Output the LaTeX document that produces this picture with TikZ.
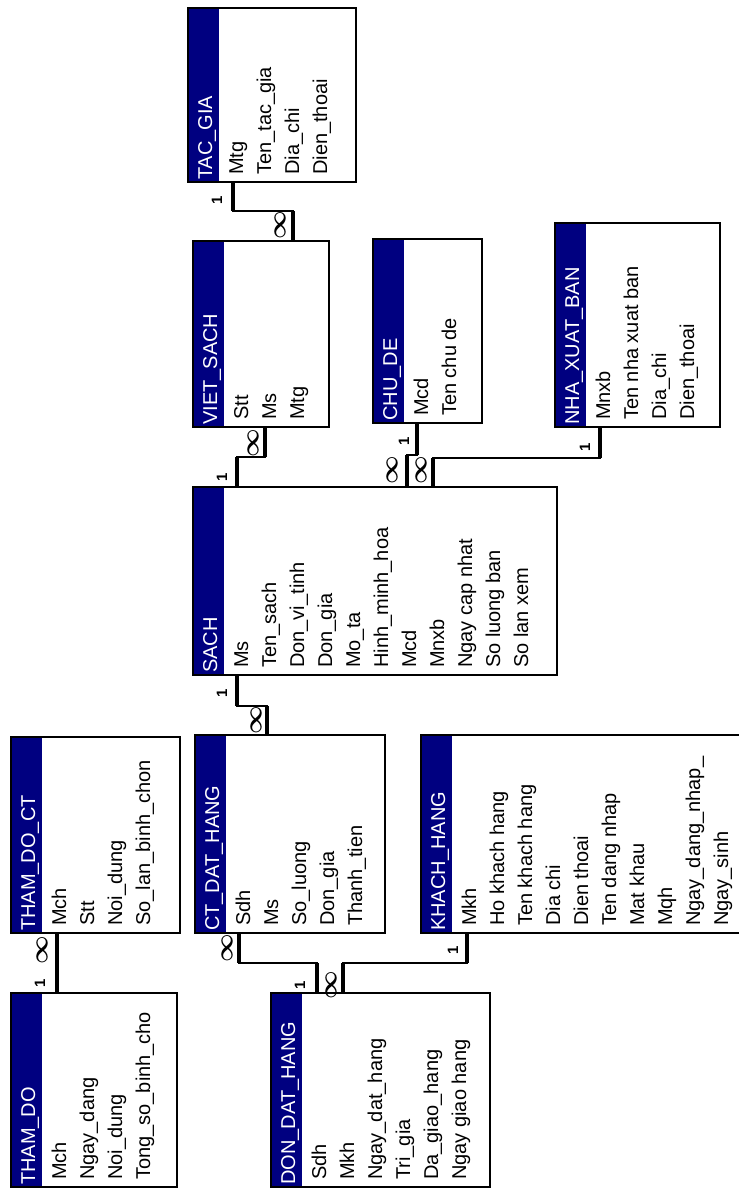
\documentclass[tikz,border=0pt]{standalone}
\usepackage{fontspec}
\setmainfont{Liberation Sans}
\usepackage{tikz}
\usetikzlibrary{calc, positioning}
\definecolor{hdrblue}{RGB}{0,0,128}

\tikzset{
  tbl/.style={draw=black, line width=1.3pt, fill=white, inner sep=0pt, outer sep=0pt,
    anchor=north west,
    path picture={\fill[hdrblue] (path picture bounding box.north west)
      rectangle ([xshift=31pt]path picture bounding box.south west);}},
  ttl/.style={rotate=90, anchor=base west, inner sep=0pt, text=white},
  fld/.style={rotate=90, anchor=base west, inner sep=0pt},
  rel/.style={line width=1.3pt},
  relend/.style={line width=3.8pt},
  one/.style={rotate=90, inner sep=0pt, font=\fontsize{15}{15}\selectfont\bfseries},
  many/.style={rotate=90, inner sep=0pt, font=\fontsize{23}{23}\selectfont\boldmath},
}

\begin{document}
\begin{tikzpicture}[x=1pt, y=-1pt, font=\fontsize{20}{24}\selectfont]
\useasboundingbox (0,0) rectangle (739,1189);

% TAC_GIA
\node[tbl, minimum width=168pt, minimum height=174pt] (tacgia) at (188,8) {};
\node[ttl] (tacgia-t) at ($(tacgia.south west)+(24,-2)$) {TAC\_GIA};
\foreach \f [count=\i from 0] in {Mtg, Ten\_tac\_gia, Dia\_chi, Dien\_thoai}
  \node[fld] (tacgia-\i) at ($(tacgia.south west)+(55+28*\i,-7)$) {\f};

% VIET_SACH
\node[tbl, minimum width=136pt, minimum height=186pt] (viet) at (193,241) {};
\node[ttl] (viet-t) at ($(viet.south west)+(24,-2)$) {VIET\_SACH};
\foreach \f [count=\i from 0] in {Stt, Ms, Mtg}
  \node[fld] (viet-\i) at ($(viet.south west)+(55+28*\i,-7)$) {\f};

% CHU_DE
\node[tbl, minimum width=109pt, minimum height=184pt] (chude) at (373,239) {};
\node[ttl] (chude-t) at ($(chude.south west)+(24,-2)$) {CHU\_DE};
\foreach \f [count=\i from 0] in {Mcd, Ten chu de}
  \node[fld] (chude-\i) at ($(chude.south west)+(55+28*\i,-7)$) {\f};

% NHA_XUAT_BAN
\node[tbl, minimum width=165pt, minimum height=204pt] (nxb) at (555,223) {};
\node[ttl] (nxb-t) at ($(nxb.south west)+(24,-2)$) {NHA\_XUAT\_BAN};
\foreach \f [count=\i from 0] in {Mnxb, Ten nha xuat ban, Dia\_chi, Dien\_thoai}
  \node[fld] (nxb-\i) at ($(nxb.south west)+(55+28*\i,-7)$) {\f};

% SACH
\node[tbl, minimum width=364pt, minimum height=188pt] (sach) at (193,487) {};
\node[ttl] (sach-t) at ($(sach.south west)+(24,-2)$) {SACH};
\foreach \f [count=\i from 0] in {Ms, Ten\_sach, Don\_vi\_tinh, Don\_gia, Mo\_ta,
    Hinh\_minh\_hoa, Mcd, Mnxb, Ngay cap nhat, So luong ban, So lan xem}
  \node[fld] (sach-\i) at ($(sach.south west)+(55+28*\i,-7)$) {\f};

% THAM_DO_CT
\node[tbl, minimum width=169pt, minimum height=196pt] (thamdoct) at (11,737) {};
\node[ttl] (thamdoct-t) at ($(thamdoct.south west)+(24,-2)$) {THAM\_DO\_CT};
\foreach \f [count=\i from 0] in {Mch, Stt, Noi\_dung, So\_lan\_binh\_chon}
  \node[fld] (thamdoct-\i) at ($(thamdoct.south west)+(55+28*\i,-7)$) {\f};

% CT_DAT_HANG
\node[tbl, minimum width=190pt, minimum height=198pt] (ctdh) at (195,735) {};
\node[ttl] (ctdh-t) at ($(ctdh.south west)+(24,-2)$) {CT\_DAT\_HANG};
\foreach \f [count=\i from 0] in {Sdh, Ms, So\_luong, Don\_gia, Thanh\_tien}
  \node[fld] (ctdh-\i) at ($(ctdh.south west)+(55+28*\i,-7)$) {\f};

% KHACH_HANG
\node[tbl, minimum width=330pt, minimum height=198pt] (khach) at (421,735) {};
\node[ttl] (khach-t) at ($(khach.south west)+(24,-2)$) {KHACH\_HANG};
\foreach \f [count=\i from 0] in {Mkh, Ho khach hang, Ten khach hang, Dia chi,
    Dien thoai, Ten dang nhap, Mat khau, Mqh, Ngay\_dang\_nhap\_, Ngay\_sinh}
  \node[fld] (khach-\i) at ($(khach.south west)+(55+28*\i,-7)$) {\f};

% THAM_DO
\node[tbl, minimum width=166pt, minimum height=194pt] (thamdo) at (11,993) {};
\node[ttl] (thamdo-t) at ($(thamdo.south west)+(24,-2)$) {THAM\_DO};
\foreach \f [count=\i from 0] in {Mch, Ngay\_dang, Noi\_dung, Tong\_so\_binh\_cho}
  \node[fld] (thamdo-\i) at ($(thamdo.south west)+(55+28*\i,-7)$) {\f};

% DON_DAT_HANG
\node[tbl, minimum width=219pt, minimum height=194pt] (ddh) at (271,993) {};
\node[ttl] (ddh-t) at ($(ddh.south west)+(24,-2)$) {DON\_DAT\_HANG};
\foreach \f [count=\i from 0] in {Sdh, Mkh, Ngay\_dat\_hang, Tri\_gia, Da\_giao\_hang,
    Ngay giao hang}
  \node[fld] (ddh-\i) at ($(ddh.south west)+(55+28*\i,-7)$) {\f};

% relationships
\draw[rel] ($(tacgia.south west)+(45,0)$) coordinate (tg1) -- ++(0,29)
  -| ($(viet.north west)+(100,0)$) coordinate (vs1);
\draw[relend] (tg1) -- ++(0,29);
\draw[relend] (vs1) -- ++(0,-30);

\draw[rel] ($(viet.south west)+(72,0)$) coordinate (vs2) -- ++(0,30)
  -| ($(sach.north west)+(44,0)$) coordinate (s1);
\draw[relend] (vs2) -- ++(0,30);
\draw[relend] (s1) -- ++(0,-30);

\draw[rel] ($(chude.south west)+(44,0)$) coordinate (cd1) -- ++(0,32)
  -| ($(sach.north west)+(214,0)$) coordinate (s2);
\draw[relend] (cd1) -- ++(0,32);
\draw[relend] (s2) -- ++(0,-32);

\draw[rel] ($(sach.north west)+(240,0)$) coordinate (s3) -- ++(0,-29)
  -| ($(nxb.south west)+(45,0)$) coordinate (nx1);
\draw[relend] (s3) -- ++(0,-29);
\draw[relend] (nx1) -- ++(0,31);

\draw[rel] ($(sach.south west)+(44,0)$) coordinate (s4) -- ++(0,31)
  -| ($(ctdh.north west)+(72,0)$) coordinate (ct1);
\draw[relend] (s4) -- ++(0,31);
\draw[relend] (ct1) -- ++(0,-29);

\draw[relend] ($(thamdoct.south west)+(46,0)$) -- ($(thamdo.north west)+(46,0)$);

\draw[rel] ($(ctdh.south west)+(44,0)$) coordinate (ct2) -- ++(0,30)
  -| ($(ddh.north west)+(46,0)$) coordinate (dh1);
\draw[relend] (ct2) -- ++(0,30);
\draw[relend] (dh1) -- ++(0,-30);

\draw[rel] ($(khach.south west)+(46,0)$) coordinate (kh1) -- ++(0,30)
  -| ($(ddh.north west)+(72,0)$) coordinate (dh2);
\draw[relend] (kh1) -- ++(0,30);
\draw[relend] (dh2) -- ++(0,-30);

% cardinalities
\node[one] (l1) at (217,200) {1};
\node[many] (m1) at (280,225) {$\infty$};
\node[many] (m2) at (253,443) {$\infty$};
\node[one] (l2) at (222,477) {1};
\node[one] (l3) at (404,441) {1};
\node[many] (m3) at (392,470) {$\infty$};
\node[many] (m4) at (421,470) {$\infty$};
\node[one] (l4) at (585,447) {1};
\node[one] (l5) at (222,693) {1};
\node[many] (m5) at (256,720) {$\infty$};
\node[many] (m6) at (42,950) {$\infty$};
\node[one] (l6) at (40,983) {1};
\node[many] (m7) at (227,948) {$\infty$};
\node[one] (l7) at (300,985) {1};
\node[many] (m8) at (331,985) {$\infty$};
\node[one] (l8) at (453,950) {1};
\end{tikzpicture}
\end{document}
